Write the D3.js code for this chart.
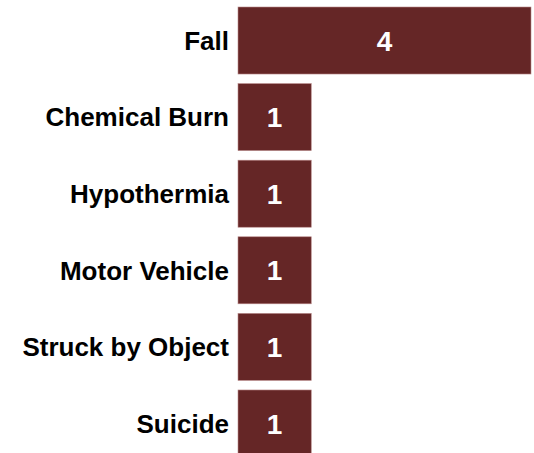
<!DOCTYPE html>
<meta charset="utf-8">
<style>
  html, body { margin: 0; padding: 0; background: #fff; }
  svg { display: block; }
  .label { font-family: "Liberation Sans", Arial, sans-serif; font-weight: bold; fill: #000; }
  .value { font-family: "Liberation Sans", Arial, sans-serif; font-weight: bold; fill: #fff; }
</style>
<div id="chart"></div>
<script src="https://cdnjs.cloudflare.com/ajax/libs/d3/7.8.5/d3.min.js"></script>
<script>
var categories = ["Fall", "Chemical Burn", "Hypothermia", "Motor Vehicle", "Struck by Object", "Suicide"];
var counts = [4, 1, 1, 1, 1, 1];

var width = 534, height = 453;

var svg = d3.select("#chart").append("svg")
  .attr("width", width)
  .attr("height", height);

var x = d3.scaleLinear().domain([0, 4]).range([238, 531]);
var y = d3.scaleBand().domain(categories).range([7, 457]).paddingInner(0.125).paddingOuter(0);

var rows = svg.selectAll("g.row")
  .data(categories)
  .enter().append("g")
    .attr("class", "row");

rows.append("rect")
  .attr("x", x(0))
  .attr("y", function(d) { return y(d); })
  .attr("width", function(d, i) { return x(counts[i]) - x(0); })
  .attr("height", y.bandwidth())
  .attr("fill", "#652626")
  .attr("stroke", "#b98a8a")
  .attr("stroke-width", 0.6);

rows.append("text")
  .attr("class", "label")
  .attr("x", x(0) - 9)
  .attr("y", function(d) { return y(d) + y.bandwidth() / 2; })
  .attr("dy", "0.36em")
  .attr("text-anchor", "end")
  .style("font-size", "26px")
  .text(function(d) { return d; });

rows.append("text")
  .attr("class", "value")
  .attr("x", function(d, i) { return (x(0) + x(counts[i])) / 2; })
  .attr("y", function(d) { return y(d) + y.bandwidth() / 2; })
  .attr("dy", "0.36em")
  .attr("text-anchor", "middle")
  .style("font-size", "28px")
  .text(function(d, i) { return counts[i]; });
</script>
